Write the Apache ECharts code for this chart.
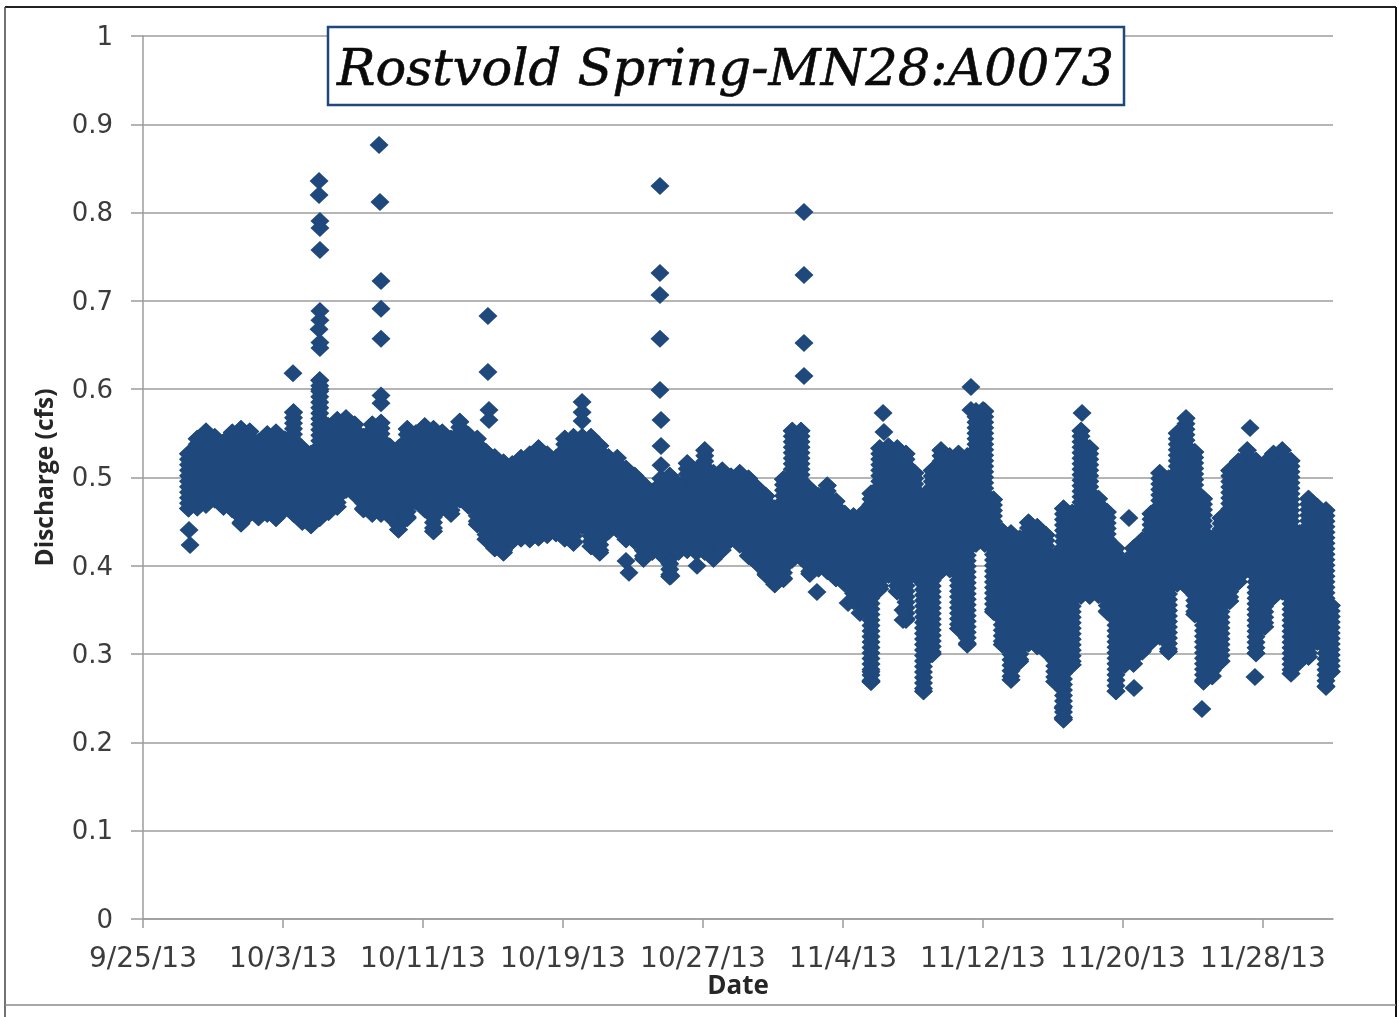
<!DOCTYPE html>
<html><head><meta charset="utf-8">
<style>html,body{margin:0;padding:0;background:#fff}#c{width:1399px;height:1017px}</style>
<script src="https://cdn.jsdelivr.net/npm/echarts@6/dist/echarts.min.js"></script>
</head><body><div id="c"></div>
<script>
const xTickLabels=['9/25/13','10/3/13','10/11/13','10/19/13','10/27/13','11/4/13','11/12/13','11/20/13','11/28/13'];
// days since 9/25/13 of each reading column
const days=[2.6,3.1,3.6,4.1,4.6,5.1,5.6,6.1,6.6,7.1,7.6,8.1,8.6,9.1,9.6,10.1,10.6,11.1,11.6,12.1,12.6,13.1,13.6,14.1,14.6,15.1,15.6,16.1,16.6,17.1,17.6,18.1,18.6,19.1,19.6,20.1,20.6,21.1,21.6,22.1,22.6,23.1,23.6,24.1,24.6,25.1,25.6,26.1,26.6,27.1,27.6,28.1,28.6,29.1,29.6,30.1,30.6,31.1,31.6,32.1,32.6,33.1,33.6,34.1,34.6,35.1,35.6,36.1,36.6,37.1,37.6,38.1,38.6,39.1,39.6,40.1,40.6,41.1,41.6,42.1,42.6,43.1,43.6,44.1,44.6,45.1,45.6,46.1,46.6,47.1,47.6,48.1,48.6,49.1,49.6,50.1,50.6,51.1,51.6,52.1,52.6,53.1,53.6,54.1,54.6,55.1,55.6,56.1,56.6,57.1,57.6,58.1,58.6,59.1,59.6,60.1,60.6,61.1,61.6,62.1,62.6,63.1,63.6,64.1,64.6,65.1,65.6,66.1,66.6,67.1,67.6,67.9];
const highs=[.527,.544,.552,.546,.540,.551,.555,.552,.540,.549,
.551,.543,.574,.533,.527,.610,.558,.565,.567,.560,
.546,.560,.562,.535,.533,.555,.550,.558,.555,.551,
.544,.563,.548,.544,.529,.523,.517,.515,.522,.526,
.533,.526,.522,.544,.546,.546,.546,.536,.523,.522,
.510,.502,.492,.484,.499,.502,.492,.516,.508,.531,
.505,.508,.501,.505,.499,.488,.479,.465,.498,.553,
.553,.487,.479,.491,.473,.459,.456,.459,.482,.533,
.535,.533,.527,.505,.479,.508,.531,.524,.527,.524,
.575,.575,.475,.439,.437,.431,.449,.444,.435,.411,
.465,.46,.553,.533,.476,.461,.420,.403,.420,.429,
.459,.505,.499,.55,.567,.529,.476,.431,.454,.508,
.518,.531,.519,.516,.527,.531,.519,.437,.476,.467,.463,.355];
const lows=[.465,.466,.469,.475,.467,.464,.448,.459,.455,.459,
.454,.464,.459,.450,.446,.454,.461,.467,.486,.481,
.464,.459,.459,.456,.441,.454,.473,.464,.439,.466,
.459,.475,.468,.447,.430,.420,.415,.428,.431,.430,
.432,.435,.437,.431,.426,.445,.422,.415,.439,.441,
.430,.428,.408,.416,.413,.388,.416,.418,.416,.416,
.408,.418,.430,.424,.411,.403,.390,.379,.385,.407,
.409,.391,.397,.394,.386,.380,.360,.354,.269,.374,
.390,.371,.339,.390,.258,.30,.394,.396,.329,.311,
.425,.425,.348,.311,.271,.292,.312,.309,.303,.269,
.226,.288,.366,.366,.367,.348,.258,.288,.289,.303,
.314,.320,.303,.38,.377,.345,.269,.275,.292,.360,
.382,.397,.301,.331,.365,.371,.278,.292,.297,.314,.263,.280];
// separately readable readings above and below the main band
const isolatedDays=[10.06,10.06,10.11,10.11,10.11,10.11,10.11,10.06,10.11,10.11,10.11,13.49,13.54,13.6,13.6,13.6,13.6,13.6,8.57,19.71,19.71,19.77,19.77,25.09,25.09,25.09,29.54,29.54,29.54,29.54,29.54,29.6,29.6,29.6,37.77,37.77,37.77,37.77,2.63,2.69,27.6,27.77,30.17,31.66,31.66,38.51,40.29,40.97,42.29,42.34,41.6,41.6,43.43,43.43,47.31,47.31,48,53.66,56.34,56.63,60.51,63.54,63.26,52.57,52.57];
const isolatedValues=[.8358,.82,.7905,.7825,.7576,.6886,.678,.668,.653,.6467,.6,.8766,.812,.7225,.691,.657,.593,.584,.618,.683,.6195,.5765,.565,.5855,.574,.564,.83,.7316,.7067,.657,.599,.565,.5357,.514,.8007,.7293,.6523,.615,.4405,.4236,.4054,.392,.3885,.4,.4156,.3703,.358,.3465,.573,.5515,.2684,.28,.3386,.35,.6025,.5765,.5765,.573,.454,.2616,.2378,.274,.556,.2276,.239];
const titleText='Rostvold Spring-MN28:A0073';
const yName='Discharge (cfs)', xName='Date';

const markColor='#1f497d', gridColor='#9c9c9c', textColor='#3c3c3c';
const bandRows=days.map((d,i)=>[d,lows[i],highs[i]]);
const points=[];
days.forEach((d,i)=>{points.push([d,highs[i]]);points.push([d,lows[i]]);});
isolatedDays.forEach((d,i)=>points.push([d,isolatedValues[i]]));

const chart=echarts.init(document.getElementById('c'),null,{renderer:'canvas'});
function line(x1,y1,x2,y2,color,w){return {type:'line',silent:true,z:10,shape:{x1,y1,x2,y2},style:{stroke:color,lineWidth:w}};}
const halfW=9.5, halfH=9, step=5.5;
chart.setOption({
  animation:false,
  backgroundColor:'#fff',
  title:{text:titleText,left:337,top:46,z:12,padding:0,
    textStyle:{fontFamily:'DejaVu Serif',fontStyle:'italic',fontWeight:'normal',fontSize:51,color:'#0a0a0a',textBorderColor:'#0a0a0a',textBorderWidth:0.6}},
  grid:{left:143,right:66,top:36,bottom:98,containLabel:false},
  xAxis:{type:'value',min:0,max:68,interval:8,
    name:xName,nameLocation:'middle',nameGap:55,nameMoveOverlap:false,
    nameTextStyle:{fontFamily:'Open Sans',fontWeight:'bold',fontSize:26,color:'#262626'},
    axisLine:{lineStyle:{color:gridColor,width:1.5}},
    axisTick:{show:true,length:9,lineStyle:{color:gridColor,width:1.5}},
    splitLine:{show:false},
    axisLabel:{margin:27,fontFamily:'DejaVu Sans',fontSize:28,color:textColor,showMinLabel:true,showMaxLabel:false,hideOverlap:false,
      formatter:v=>xTickLabels[v/8]||''}},
  yAxis:{type:'value',min:0,max:1,interval:0.1,
    name:yName,nameLocation:'middle',nameGap:84,
    nameTextStyle:{fontFamily:'Open Sans',fontWeight:'bold',fontSize:24.5,color:'#262626'},
    axisLine:{show:true,lineStyle:{color:gridColor,width:1.5}},
    axisTick:{show:true,length:12,lineStyle:{color:gridColor,width:1.5}},
    splitLine:{show:true,lineStyle:{color:gridColor,width:1.5}},
    axisLabel:{margin:30,fontFamily:'DejaVu Sans',fontSize:26,color:textColor,verticalAlign:'top',padding:[-11,0,0,0]}},
  graphic:[
    {type:'rect',silent:true,z:11,shape:{x:328,y:27,width:796,height:78},style:{fill:'#fff',stroke:markColor,lineWidth:2.5}},
    line(5,7,1396,7,'#222',2),
    line(5,7,5,1017,'#444',1.5),
    line(1396,7,1396,1017,'#111',2),
    line(5,1005,1396,1005,'#8a8a8a',1.5)
  ],
  series:[
    {type:'custom',silent:true,z:2,clip:false,data:bandRows,encode:{x:0,y:[1,2]},
     renderItem:(params,api)=>{
       const lo=api.coord([api.value(0),api.value(1)]);
       const hi=api.coord([api.value(0),api.value(2)]);
       const x=lo[0], left=[[x,hi[1]-halfH]], right=[];
       for(let y=hi[1];y<lo[1];y+=step){
         left.push([x-halfW,y],[x-halfW+step/2,y+step/2]);
         right.unshift([x+halfW-step/2,y+step/2],[x+halfW,y]);
       }
       const pts=left.concat([[x-halfW,lo[1]],[x,lo[1]+halfH],[x+halfW,lo[1]]],right);
       return {type:'polygon',shape:{points:pts},style:{fill:markColor}};
     }},
    {type:'scatter',name:'Discharge',silent:true,z:3,data:points,symbol:'diamond',symbolSize:[19,18],itemStyle:{color:markColor,opacity:1}}
  ]
});
</script></body></html>
